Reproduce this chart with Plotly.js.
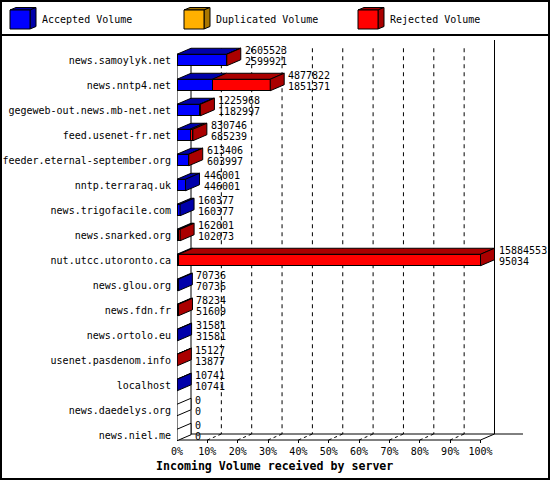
<!DOCTYPE html>
<html>
<head>
<meta charset="utf-8">
<script src="https://cdn.plot.ly/plotly-3.0.1.min.js"></script>
<style>
  html, body { margin: 0; padding: 0; background: #fff; }
  #chart { width: 550px; height: 480px; }
</style>
</head>
<body>
<div id="chart"></div>
<script>
// servers, top to bottom
const servers = [
  "news.samoylyk.net", "news.nntp4.net", "gegeweb-out.news.mb-net.net",
  "feed.usenet-fr.net", "feeder.eternal-september.org", "nntp.terraraq.uk",
  "news.trigofacile.com", "news.snarked.org", "nut.utcc.utoronto.ca",
  "news.glou.org", "news.fdn.fr", "news.ortolo.eu", "usenet.pasdenom.info",
  "localhost", "news.daedelys.org", "news.niel.me"
];
const totalVolume = [2605523, 4877822, 1225968, 830746, 613406, 446001, 160377, 162001,
  15884553, 70736, 78234, 31581, 15127, 10741, 0, 0];
const acceptedVolume = [2599921, 1851371, 1182997, 685239, 603997, 446001, 160377, 102073,
  95034, 70736, 51609, 31581, 13877, 10741, 0, 0];
const duplicatedVolume = [0, 0, 0, 0, 0, 0, 0, 0, 0, 0, 0, 0, 0, 0, 0, 0];
const rejectedVolume = [5602, 3026451, 42971, 145507, 9409, 0, 0, 59928,
  15789519, 0, 26625, 0, 1250, 0, 0, 0];
const percentTicks = [0, 10, 20, 30, 40, 50, 60, 70, 80, 90, 100];
const seriesNames = ["Accepted Volume", "Duplicated Volume", "Rejected Volume"];

// look
const FONT = "DejaVu Sans Mono";
const front = ["#0000ff", "#ffb000", "#ff0000"];
const shade = ["#0000aa", "#aa7700", "#aa0000"];

// geometry (axis units: x in % of the biggest server, y in rows)
const ML = 177, MR = 2, MT = 36, MB = 37, W = 550, H = 480;
const PX_PER_PCT = 3.035;
const XMAX = (W - ML - MR) / PX_PER_PCT;
const ROW = 25;
const YTOP = -0.96, YBOT = 15.32;
const DX = 14 / PX_PER_PCT;
const DY = 6 / ROW;
const HALF = 5.75 / ROW;
const FLOOR = 15.2;

// pixel -> paper for the frame and the legend
const plotW = W - ML - MR, plotH = H - MT - MB;
function px(x) { return (x - ML) / plotW; }
function py(y) { return (H - MB - y) / plotH; }

const maxTotal = Math.max.apply(null, totalVolume);
const pct = arr => arr.map(v => v / maxTotal * 100);
const series = [pct(acceptedVolume), pct(duplicatedVolume), pct(rejectedVolume)];
const rows = servers.map((s, i) => i);

// front faces
let data = series.map((vals, k) => ({
  type: "bar", orientation: "h", name: seriesNames[k],
  x: vals, y: rows, width: 2 * HALF,
  marker: { color: front[k], line: { color: "black", width: 1 } },
  hoverinfo: "skip"
}));

// top and side faces, one trace per colour, polygons split by nulls
function poly(t, pts) {
  pts.concat([pts[0]]).forEach(p => { t.x.push(p[0]); t.y.push(p[1]); });
  t.x.push(null); t.y.push(null);
}
function face(color) {
  return { type: "scatter", mode: "lines", fill: "toself", fillcolor: color,
    line: { color: "black", width: 1 }, x: [], y: [], hoverinfo: "skip" };
}
const tops = shade.map(face);
const sides = shade.map(face);
const emptySide = face("#ffffff");

rows.forEach(i => {
  const yt = i - HALF, yb = i + HALF;
  let x0 = 0, last = -1;
  series.forEach((vals, k) => {
    if (vals[i] <= 0) return;
    const x1 = x0 + vals[i];
    poly(tops[k], [[x0, yt], [x1, yt], [x1 + DX, yt - DY], [x0 + DX, yt - DY]]);
    x0 = x1; last = k;
  });
  const target = last < 0 ? emptySide : sides[last];
  poly(target, [[x0, yt], [x0 + DX, yt - DY], [x0 + DX, yb - DY], [x0, yb]]);
});
data = data.concat(tops, sides, [emptySide]);

// value labels: total above, accepted below
const annotations = [];
rows.forEach(i => {
  const xe = series[0][i] + series[1][i] + series[2][i] + DX;
  annotations.push({ x: xe, y: i, xanchor: "left", yanchor: "middle", xshift: 2, yshift: 9.5,
    text: String(totalVolume[i]), showarrow: false, font: { family: FONT, size: 10, color: "black" } });
  annotations.push({ x: xe, y: i, xanchor: "left", yanchor: "middle", xshift: 2, yshift: -1.5,
    text: String(acceptedVolume[i]), showarrow: false, font: { family: FONT, size: 10, color: "black" } });
});
annotations.push({ xref: "paper", yref: "paper", x: px(154), y: py(466), xanchor: "left", yanchor: "middle",
  text: "<b>Incoming Volume received by server</b>", showarrow: false,
  font: { family: FONT, size: 11.6, color: "black" } });

// walls, floor and grid
const shapes = [];
function seg(x0, y0, x1, y1, dash) {
  shapes.push({ type: "line", xref: "x", yref: "y", x0: x0, y0: y0, x1: x1, y1: y1, layer: "below",
    line: { color: "black", width: 1, dash: dash || "solid" } });
}
const wallTop = -HALF - DY;
const backFloor = FLOOR - DY;
percentTicks.slice(1, -1).forEach(p => {
  seg(p + DX, wallTop, p + DX, backFloor, "4px,4px");
  seg(p, FLOOR, p + DX, backFloor, "3px,3px");
});
seg(0, -HALF, 0, FLOOR);
seg(DX, wallTop, DX, backFloor);
seg(100 + DX, YTOP + 0.16, 100 + DX, backFloor);
seg(0, FLOOR, 100, FLOOR);
seg(DX, backFloor, 114, backFloor);
seg(0, FLOOR, DX, backFloor);
seg(100, FLOOR, 100 + DX, backFloor);

// frame and legend, placed in pixels
function rectPx(x0, y0, x1, y1, fill, lw) {
  shapes.push({ type: "rect", xref: "paper", yref: "paper", x0: px(x0), y0: py(y0), x1: px(x1), y1: py(y1),
    fillcolor: fill, line: { color: "black", width: lw } });
}
function pathPx(pts, fill) {
  const d = pts.map((p, j) => (j ? "L" : "M") + px(p[0]) + "," + py(p[1])).join(" ") + " Z";
  shapes.push({ type: "path", xref: "paper", yref: "paper", path: d, fillcolor: fill,
    line: { color: "black", width: 1 } });
}
rectPx(1, 1, 549, 479, "rgba(0,0,0,0)", 2);
shapes.push({ type: "line", xref: "paper", yref: "paper", x0: px(0), y0: py(35), x1: px(550), y1: py(35),
  line: { color: "black", width: 2 } });

const legendX = [10, 184, 358];
legendX.forEach((lx, k) => {
  pathPx([[lx, 10], [lx + 6, 7.5], [lx + 26, 7.5], [lx + 20, 10]], shade[k]);
  pathPx([[lx + 20, 10], [lx + 26, 7.5], [lx + 26, 26.5], [lx + 20, 29]], shade[k]);
  rectPx(lx, 10, lx + 20, 29, front[k], 1);
  annotations.push({ xref: "paper", yref: "paper", x: px(lx + 30), y: py(20), xanchor: "left", yanchor: "middle",
    text: seriesNames[k], showarrow: false, font: { family: FONT, size: 10, color: "black" } });
});

const layout = {
  width: W, height: H,
  margin: { l: ML, r: MR, t: MT, b: MB, pad: 0 },
  paper_bgcolor: "white", plot_bgcolor: "rgba(0,0,0,0)",
  barmode: "stack", showlegend: false,
  font: { family: FONT, size: 10, color: "black" },
  xaxis: {
    range: [0, XMAX], tickvals: percentTicks, ticktext: percentTicks.map(p => p + "%"),
    ticks: "inside", ticklen: 3, tickcolor: "black", showgrid: false, zeroline: false,
    showline: false, fixedrange: true, ticklabelstandoff: 1,
    tickfont: { family: FONT, size: 10, color: "black" }
  },
  yaxis: {
    range: [YBOT, YTOP], tickvals: rows, ticktext: servers, ticks: "", showgrid: false,
    zeroline: false, showline: false, fixedrange: true, ticklabelstandoff: 5,
    tickfont: { family: FONT, size: 10, color: "black" }
  },
  shapes: shapes,
  annotations: annotations
};

Plotly.newPlot("chart", data, layout, { displayModeBar: false, staticPlot: true });
</script>
</body>
</html>
